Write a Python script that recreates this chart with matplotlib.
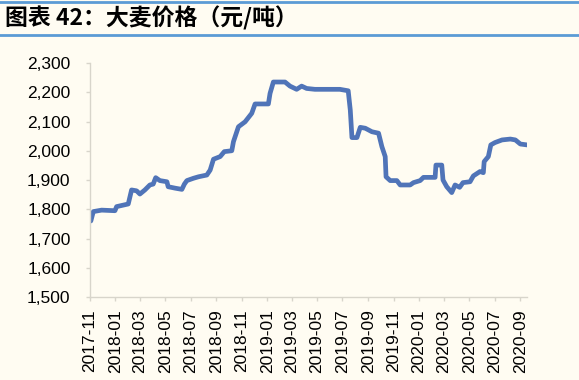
import matplotlib
matplotlib.use('Agg')
import matplotlib.pyplot as plt
import matplotlib.dates as mdates
import matplotlib.ticker as mticker
from matplotlib.lines import Line2D
import datetime

# barley price, yuan/ton
dates = ['2017-11-01', '2017-11-03', '2017-11-09', '2017-11-29', '2017-12-31', '2018-01-04',
         '2018-02-01', '2018-02-09', '2018-02-21', '2018-03-01', '2018-03-13', '2018-03-25',
         '2018-04-02', '2018-04-08', '2018-04-18', '2018-05-05', '2018-05-08', '2018-05-25',
         '2018-06-10', '2018-06-16', '2018-06-22', '2018-07-08', '2018-07-20', '2018-08-09',
         '2018-08-17', '2018-08-25', '2018-09-10', '2018-09-20', '2018-10-08', '2018-10-12',
         '2018-10-24', '2018-11-09', '2018-11-25', '2018-12-03', '2019-01-04', '2019-01-08',
         '2019-01-16', '2019-02-13', '2019-02-25', '2019-03-13', '2019-03-25', '2019-04-06',
         '2019-04-26', '2019-06-01', '2019-06-25', '2019-07-15', '2019-07-20', '2019-07-24',
         '2019-08-05', '2019-08-13', '2019-08-25', '2019-09-10', '2019-09-26', '2019-10-04',
         '2019-10-12', '2019-10-14', '2019-10-24', '2019-11-09', '2019-11-17', '2019-12-11',
         '2019-12-19', '2020-01-04', '2020-01-12', '2020-02-09', '2020-02-11', '2020-02-25',
         '2020-02-28', '2020-03-08', '2020-03-20', '2020-03-28', '2020-04-08', '2020-04-16',
         '2020-05-03', '2020-05-11', '2020-05-27', '2020-06-04', '2020-06-06', '2020-06-16',
         '2020-06-22', '2020-07-02', '2020-07-19', '2020-08-08', '2020-08-20', '2020-09-01',
         '2020-09-17']
price = [1770, 1760, 1792, 1797, 1795, 1809,
         1818, 1866, 1863, 1852, 1866, 1883,
         1886, 1908, 1898, 1894, 1877, 1872,
         1868, 1886, 1898, 1906, 1911, 1917,
         1934, 1971, 1980, 1997, 2000, 2031,
         2082, 2099, 2128, 2160, 2160, 2196,
         2235, 2235, 2221, 2210, 2221, 2213,
         2210, 2210, 2210, 2205, 2139, 2045,
         2045, 2080, 2077, 2065, 2060, 2014,
         1980, 1911, 1898, 1898, 1883, 1883,
         1891, 1898, 1909, 1909, 1951, 1951,
         1900, 1877, 1857, 1883, 1875, 1891,
         1894, 1914, 1929, 1925, 1963, 1980,
         2020, 2028, 2037, 2040, 2037, 2023,
         2020]

yticks = list(range(1500, 2301, 100))

xdates = [datetime.datetime.strptime(d, '%Y-%m-%d') for d in dates]

bg = '#FFFCF2'
plt.rcParams['font.family'] = ['Liberation Sans', 'DejaVu Sans']

fig = plt.figure(figsize=(5.79, 3.80), dpi=100, facecolor=bg)
ax = fig.add_axes([90/579, 1-297/380, (527-90)/579, (297-63)/380])
ax.set_facecolor(bg)

ax.plot(xdates, price, '-', color='#5074B8', linewidth=3.4, solid_joinstyle='round')

ax.set_ylim(1500, 2300)
ax.set_yticks(yticks)
ax.yaxis.set_major_formatter(mticker.FuncFormatter(lambda v, p: '{:,.0f}'.format(v)))
ax.set_xlim(datetime.datetime(2017, 11, 1), datetime.datetime(2020, 9, 17))
ax.xaxis.set_major_locator(mdates.MonthLocator(bymonth=[1, 3, 5, 7, 9, 11]))
ax.xaxis.set_major_formatter(mdates.DateFormatter('%Y-%m'))
plt.setp(ax.get_xticklabels(), rotation=90)

for s in ['top', 'right']:
    ax.spines[s].set_visible(False)
for s in ['left', 'bottom']:
    ax.spines[s].set_color('#D8D5CB')
    ax.spines[s].set_linewidth(1)
ax.tick_params(axis='both', colors='#D8D5CB', labelcolor='black', labelsize=12.5, length=3, width=1)
ax.tick_params(axis='y', pad=11)
ax.tick_params(axis='x', pad=6)

# title band
fig.add_artist(Line2D([0, 1], [1-2/380, 1-2/380], color='#5B9BD5', linewidth=2))
fig.add_artist(Line2D([0, 1], [1-35/380, 1-35/380], color='#5B9BD5', linewidth=2))
fig.text(5/579, 1-18/380, '图表 42：大麦价格（元/吨）', family=['Noto Sans CJK SC', 'DejaVu Sans'],
         fontsize=16.5, fontweight='bold', va='center', ha='left', color='black')

plt.savefig('out.png', dpi=100, facecolor=bg)
